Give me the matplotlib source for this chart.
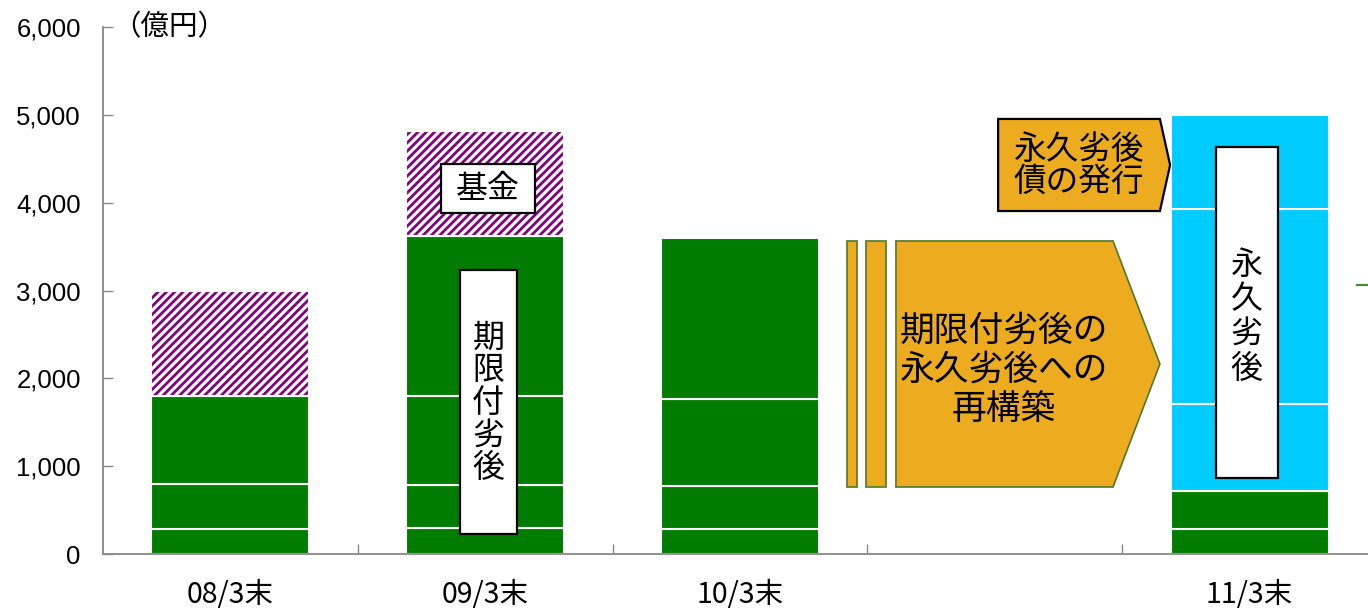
import numpy as np
import matplotlib.pyplot as plt
from matplotlib.patches import Polygon, Rectangle
from matplotlib.lines import Line2D

plt.rcParams['font.family'] = ['Noto Sans CJK JP', 'DejaVu Sans']
plt.rcParams['hatch.linewidth'] = 2.0

# 残高（億円）
categories = ['08/3末', '09/3末', '10/3末', '', '11/3末']
green1 = [290, 300, 290, 0, 290]
green2 = [510, 490, 480, 0, 430]
green3 = [1000, 1010, 990, 0, 0]
green4 = [0, 1820, 1840, 0, 0]
fund = [1200, 1200, 0, 0, 0]
perp1 = [0, 0, 0, 0, 990]
perp2 = [0, 0, 0, 0, 2220]
perp3 = [0, 0, 0, 0, 1070]
yticks = [0, 1000, 2000, 3000, 4000, 5000, 6000]

GREEN = '#007C00'
CYAN = '#00CCFF'
PURPLE = '#800080'
ORANGE = '#EDAC1F'

fig = plt.figure(figsize=(13.68, 6.09), dpi=100)
ax = fig.add_axes([103/1368, 55/609, 1274/1368, 527/609])

x = np.arange(len(categories))
w = 0.62
bottom = np.zeros(len(categories))
layers = [(green1, GREEN, None), (green2, GREEN, None), (green3, GREEN, None),
          (green4, GREEN, None), (fund, 'white', '////'),
          (perp1, CYAN, None), (perp2, CYAN, None), (perp3, CYAN, None)]
for vals, col, hatch in layers:
    vals = np.array(vals, dtype=float)
    m = vals > 0
    if hatch:
        ax.bar(x[m], vals[m], w, bottom=bottom[m], color='white',
               edgecolor=PURPLE, hatch=hatch, linewidth=0, zorder=2)
        ax.bar(x[m], vals[m], w, bottom=bottom[m], fill=False,
               edgecolor='white', linewidth=1.5, zorder=3)
    else:
        ax.bar(x[m], vals[m], w, bottom=bottom[m], color=col,
               edgecolor='white', linewidth=1.5, zorder=2)
    bottom += vals

ax.set_xlim(-0.5, 4.5)
ax.set_ylim(0, 6000)
ax.set_yticks(yticks)
ax.set_yticklabels([f'{v:,}' for v in yticks], family='Liberation Sans', fontsize=18.5)
ax.set_xticks(x)
ax.set_xticklabels(categories, fontsize=20.5)
ax.set_xticks(np.arange(0.5, 4.0, 1.0), minor=True)
ax.tick_params(axis='x', which='major', length=0, pad=19)
ax.tick_params(axis='x', which='minor', direction='in', length=7, width=1, color='#888888')
ax.tick_params(axis='y', direction='in', length=7, width=1, color='#888888', pad=16)
for s in ['top', 'right']:
    ax.spines[s].set_visible(False)
for s in ['left', 'bottom']:
    ax.spines[s].set_color('#888888')
    ax.spines[s].set_linewidth(1.3)

ax.text(0.052, 0.999, '（億円）', transform=ax.transAxes, ha='center', va='center', fontsize=20.5)

# 基金 label
ax.add_patch(Rectangle((0.827, 3880), 0.368, 560, facecolor='white',
                       edgecolor='black', linewidth=1.6, zorder=4))
ax.text(1.011, 4160, '基金', ha='center', va='center', fontsize=23, zorder=5)

# 期限付劣後 label
ax.add_patch(Rectangle((0.901, 224), 0.222, 3010, facecolor='white',
                       edgecolor='black', linewidth=1.6, zorder=4))
ax.text(1.012, 1720, '期\n限\n付\n劣\n後', ha='center', va='center',
        fontsize=23, linespacing=1.02, zorder=5)

# 永久劣後 label
ax.add_patch(Rectangle((3.867, 865), 0.244, 3772, facecolor='white',
                       edgecolor='black', linewidth=1.6, zorder=4))
ax.text(3.989, 2700, '永\n久\n劣\n後', ha='center', va='center',
        fontsize=23, linespacing=1.1, zorder=5)

# 再構築 arrow
edge_g = '#4F7A2C'
for x0, x1 in [(2.420, 2.459), (2.494, 2.573)]:
    ax.add_patch(Rectangle((x0, 763), x1 - x0, 2801, facecolor=ORANGE,
                           edgecolor=edge_g, linewidth=1.2, zorder=4))
ax.add_patch(Polygon([(2.612, 763), (3.464, 763), (3.648, 2163),
                      (3.464, 3564), (2.612, 3564)], closed=True,
                     facecolor=ORANGE, edgecolor=edge_g, linewidth=1.2, zorder=4))
ax.text(3.037, 2090, '期限付劣後の\n永久劣後への\n再構築', ha='center', va='center',
        fontsize=25, linespacing=1.16, zorder=5)

# 永久劣後債の発行 arrow
ax.add_patch(Polygon([(3.013, 3905), (3.648, 3905), (3.688, 4429),
                      (3.648, 4953), (3.013, 4953)], closed=True,
                     facecolor=ORANGE, edgecolor='black', linewidth=1.6, zorder=4))
ax.text(3.33, 4420, '永久劣後\n債の発行', ha='center', va='center',
        fontsize=23.5, linespacing=0.98, zorder=5)

fig.add_artist(Line2D([1357/1368, 1.0], [1 - 284.5/609, 1 - 284.5/609],
                      color='#4E8A3A', linewidth=1.6))

plt.savefig('out.png', dpi=100)
